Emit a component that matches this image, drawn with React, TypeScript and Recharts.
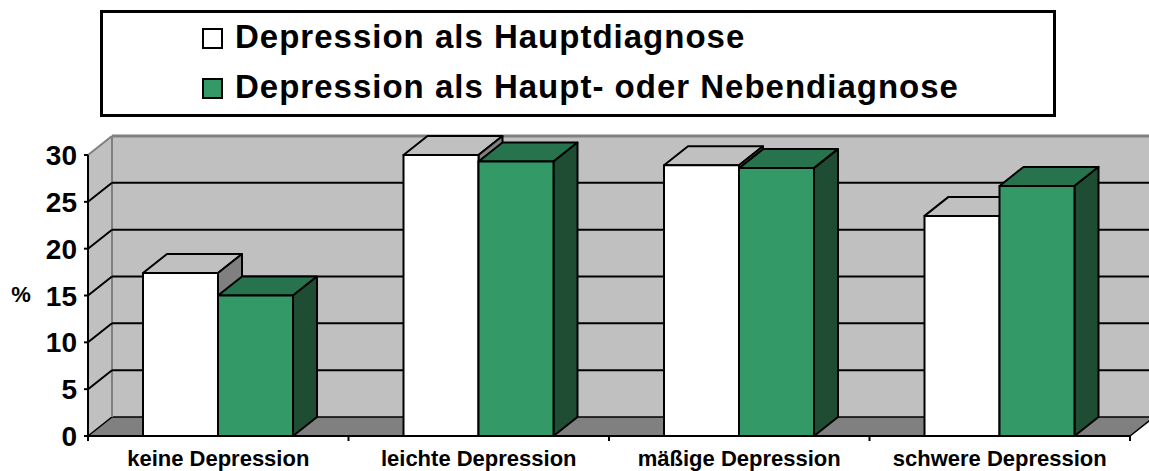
import { Bar, BarChart, CartesianGrid, Legend, XAxis, YAxis } from "recharts";

const CATEGORIES = ["keine Depression", "leichte Depression", "mäßige Depression", "schwere Depression"];
const HAUPT = [17.4, 30.0, 28.9, 23.5];
const HAUPT_NEBEN = [15.0, 29.3, 28.6, 26.7];
const Y_TICKS = [0, 5, 10, 15, 20, 25, 30];
const SERIES = ["Depression als Hauptdiagnose", "Depression als Haupt- oder Nebendiagnose"];

const FONT = '"Liberation Sans", Arial, sans-serif';
const W = 1149;
const H = 471;
const MARGIN = { top: 155, right: 19, bottom: 0, left: 28 };
const Y_W = 60;
const X_H = 35;
const BAND = (W - MARGIN.left - Y_W - MARGIN.right) / CATEGORIES.length;

// depth of the 3d box
const DX = 24;
const DY = -19;

const WALL = "#c0c0c0";
const FLOOR = "#808080";
const EDGE = "#808080";

const WHITE = { front: "#ffffff", top: "#c0c0c0", side: "#808080" };
const GREEN = { front: "#339966", top: "#26734d", side: "#1e4d34" };

const data = CATEGORIES.map((name, i) => ({ name, haupt: HAUPT[i], neben: HAUPT_NEBEN[i] }));

// ── 3d column ────────────────────────────────────────────────────────────────
function Box3D(props: any) {
  const { x, y, width, height, colors } = props;
  if (width == null || height == null) return null;
  const x1 = x + width;
  const yb = y + height;
  return (
    <g stroke="#000" strokeWidth={2} strokeLinejoin="round">
      <polygon points={`${x},${y} ${x + DX},${y + DY} ${x1 + DX},${y + DY} ${x1},${y}`} fill={colors.top} />
      <polygon points={`${x1},${y} ${x1 + DX},${y + DY} ${x1 + DX},${yb + DY} ${x1},${yb}`} fill={colors.side} />
      <rect x={x} y={y} width={width} height={height} fill={colors.front} />
    </g>
  );
}

// ── walls + back-wall gridlines ──────────────────────────────────────────────
function WallLine(props: any) {
  const { x1, x2, y1, index, x, y, width, height } = props;
  const top = y;
  const bottom = y + height;
  const isEdge = Math.abs(y1 - top) < 0.5 || Math.abs(y1 - bottom) < 0.5;
  return (
    <g key={`wl-${index}`}>
      {index === 0 && (
        <g>
          <polygon
            points={`${x + DX},${top + DY} ${x + width + DX + 40},${top + DY} ${x + width + DX + 40},${bottom + DY} ${x + DX},${bottom + DY}`}
            fill={WALL}
          />
          <polygon
            points={`${x},${top} ${x + DX},${top + DY} ${x + DX},${bottom + DY} ${x},${bottom}`}
            fill={WALL}
          />
          <polygon
            points={`${x},${bottom} ${x + DX},${bottom + DY} ${x + width + DX},${bottom + DY} ${x + width},${bottom}`}
            fill={FLOOR}
            stroke="#000"
            strokeWidth={1.5}
          />
          <line x1={x + DX} y1={top + DY} x2={x + DX} y2={bottom + DY} stroke={EDGE} strokeWidth={2} />
          <line x1={x} y1={top} x2={x + DX} y2={top + DY} stroke={EDGE} strokeWidth={2} />
          <line x1={x + DX} y1={top + DY} x2={x + width + DX + 40} y2={top + DY} stroke={EDGE} strokeWidth={3} />
        </g>
      )}
      {!isEdge && (
        <g stroke="#000" strokeWidth={2}>
          <line x1={x1} y1={y1} x2={x1 + DX} y2={y1 + DY} />
          <line x1={x1 + DX} y1={y1 + DY} x2={x2 + DX + 40} y2={y1 + DY} />
        </g>
      )}
    </g>
  );
}

function YTick(props: any) {
  const { x, y, payload } = props;
  return (
    <text x={x} y={y + 10} textAnchor="end" fontFamily={FONT} fontWeight="bold" fontSize={28} fill="#000">
      {payload.value}
    </text>
  );
}

function XTick(props: any) {
  const { x, y, payload, index } = props;
  const axisY = y - 8;
  const half = BAND / 2;
  return (
    <g>
      <line x1={x - half} y1={axisY} x2={x - half} y2={axisY + 5} stroke="#000" strokeWidth={2} />
      {index === CATEGORIES.length - 1 && (
        <line x1={x + half} y1={axisY} x2={x + half} y2={axisY + 5} stroke="#000" strokeWidth={2} />
      )}
      <text x={x} y={axisY + 30} textAnchor="middle" fontFamily={FONT} fontWeight="bold" fontSize={22} fill="#000">
        {payload.value}
      </text>
    </g>
  );
}

function LegendBox() {
  const swatch = (bg: string, top: number) => ({
    position: "absolute" as const,
    left: 99,
    top,
    width: 21,
    height: 21,
    boxSizing: "border-box" as const,
    border: "2px solid #000",
    background: bg,
  });
  const label = (top: number) => ({
    position: "absolute" as const,
    left: 132,
    top,
    fontFamily: FONT,
    fontWeight: "bold" as const,
    fontSize: 33,
    lineHeight: "33px",
    letterSpacing: 1,
    whiteSpace: "nowrap" as const,
    color: "#000",
  });
  return (
    <div
      style={{
        position: "relative",
        width: 956,
        height: 107,
        boxSizing: "border-box",
        border: "3px solid #000",
        background: "#fff",
      }}
    >
      <div style={swatch(WHITE.front, 15)} />
      <span style={label(7.1)}>{SERIES[0]}</span>
      <div style={swatch(GREEN.front, 65)} />
      <span style={label(57.1)}>{SERIES[1]}</span>
    </div>
  );
}

export default function App() {
  return (
    <div style={{ position: "absolute", left: 0, top: 0, width: W, height: H, background: "#fff" }}>
      <BarChart width={W} height={H} data={data} margin={MARGIN} barSize={75} barGap={0}>
        <CartesianGrid vertical={false} horizontal={(p: any) => <WallLine {...p} />} />
        <XAxis
          dataKey="name"
          height={X_H}
          interval={0}
          axisLine={{ stroke: "#000", strokeWidth: 2 }}
          tickLine={false}
          tickSize={6}
          tickMargin={2}
          tick={<XTick />}
        />
        <YAxis
          width={Y_W}
          domain={[0, 30]}
          ticks={Y_TICKS}
          interval={0}
          axisLine={{ stroke: "#000", strokeWidth: 2 }}
          tickLine={{ stroke: "#000", strokeWidth: 2 }}
          tickSize={4}
          tickMargin={7}
          tick={<YTick />}
          label={(p: any) => (
            <text
              x={p.viewBox.x - 7}
              y={p.viewBox.y + p.viewBox.height / 2 + 6}
              textAnchor="middle"
              fontFamily={FONT}
              fontWeight="bold"
              fontSize={22}
              fill="#000"
            >
              %
            </text>
          )}
        />
        <Legend
          layout="horizontal"
          verticalAlign="middle"
          align="center"
          wrapperStyle={{ position: "absolute", top: 10, left: 100, width: 956, height: 107 }}
          content={() => <LegendBox />}
        />
        <Bar dataKey="haupt" name={SERIES[0]} isAnimationActive={false} shape={(p: any) => <Box3D {...p} colors={WHITE} />} />
        <Bar dataKey="neben" name={SERIES[1]} isAnimationActive={false} shape={(p: any) => <Box3D {...p} colors={GREEN} />} />
      </BarChart>
    </div>
  );
}
